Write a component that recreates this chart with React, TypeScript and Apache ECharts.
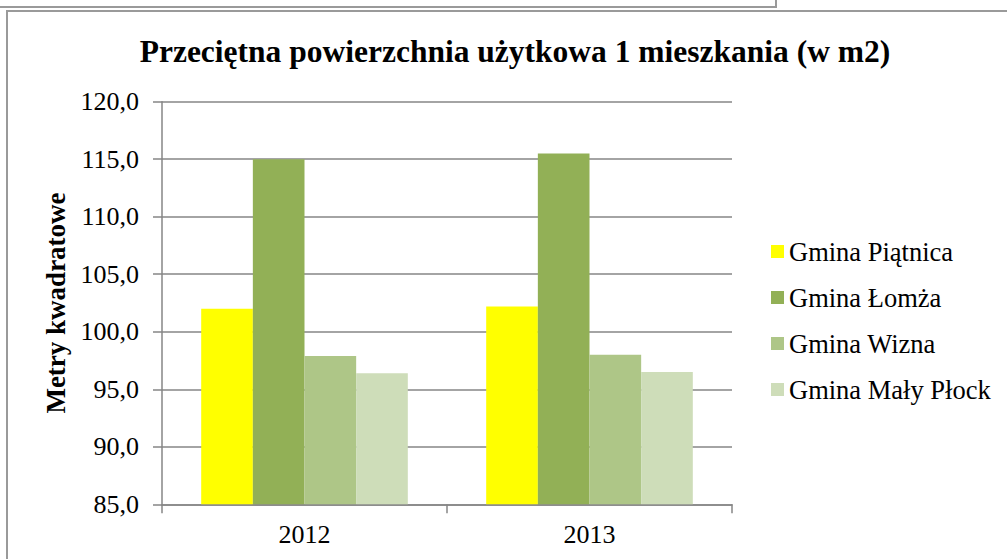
import React, { useEffect, useRef } from "react";
import * as echarts from "echarts";

const categories = ["2012", "2013"];
const seriesNames = ["Gmina Piątnica", "Gmina Łomża", "Gmina Wizna", "Gmina Mały Płock"];
const piatnica = [102.0, 102.2];
const lomza = [115.0, 115.5];
const wizna = [97.9, 98.0];
const malyPlock = [96.4, 96.5];
const colors = ["#FFFF00", "#92B056", "#AEC687", "#CEDDB9"];
const titleText = "Przeciętna powierzchnia użytkowa 1 mieszkania (w m2)";
const yAxisName = "Metry kwadratowe";

const FONT = "Liberation Serif";

export default function App() {
  const ref = useRef<HTMLDivElement>(null);
  useEffect(() => {
    if (!ref.current) return;
    const chart = echarts.init(ref.current, null, { renderer: "svg" });
    const values = [piatnica, lomza, wizna, malyPlock];
    chart.setOption({
      animation: false,
      backgroundColor: "#ffffff",
      textStyle: { fontFamily: FONT },
      title: {
        text: titleText,
        left: 510,
        top: 30,
        textAlign: "center",
        textStyle: { fontFamily: FONT, fontWeight: "bold", fontSize: 31.5, color: "#000" },
      },
      graphic: [
        {
          type: "rect",
          shape: { x: -5, y: -5, width: 781, height: 12 },
          style: { fill: "none", stroke: "#9a9a9a", lineWidth: 2 },
          silent: true,
        },
        {
          type: "rect",
          shape: { x: 7, y: 11, width: 1020, height: 580 },
          style: { fill: "none", stroke: "#9a9a9a", lineWidth: 2 },
          silent: true,
        },
      ],
      legend: {
        orient: "vertical",
        left: 766,
        top: 233,
        itemWidth: 13,
        itemHeight: 13,
        itemGap: 19,
        icon: "rect",
        data: seriesNames,
        textStyle: { fontFamily: FONT, fontSize: 26.5, color: "#000", lineHeight: 26 },
      },
      grid: { left: 162, right: 275, top: 101.7, bottom: 54.7, containLabel: false },
      xAxis: {
        type: "category",
        data: categories,
        axisLine: { show: true, lineStyle: { color: "#868686", width: 1.5 } },
        axisTick: { show: true, length: 9, lineStyle: { color: "#868686", width: 1.5 } },
        axisLabel: { fontFamily: FONT, fontSize: 26, color: "#000", margin: 17 },
      },
      yAxis: {
        type: "value",
        min: 85,
        max: 120,
        interval: 5,
        name: yAxisName,
        nameLocation: "middle",
        nameGap: 90,
        nameRotate: 90,
        nameTextStyle: { fontFamily: FONT, fontWeight: "bold", fontSize: 27, color: "#000" },
        axisLine: { show: true, lineStyle: { color: "#868686", width: 1.5 } },
        axisTick: { show: true, length: 9, lineStyle: { color: "#868686", width: 1.5 } },
        splitLine: { show: true, lineStyle: { color: "#868686", width: 1.5 } },
        axisLabel: {
          fontFamily: FONT,
          fontSize: 26,
          color: "#000",
          margin: 23,
          formatter: (v: number) => v.toFixed(1).replace(".", ","),
        },
      },
      series: seriesNames.map((name, i) => ({
        name,
        type: "bar",
        data: values[i],
        barGap: "0%",
        barCategoryGap: "27.5%",
        itemStyle: { color: colors[i] },
      })),
    });
    return () => chart.dispose();
  }, []);
  return (
    <div
      ref={ref}
      style={{ position: "absolute", left: 0, top: 0, width: 1007, height: 559 }}
    />
  );
}
